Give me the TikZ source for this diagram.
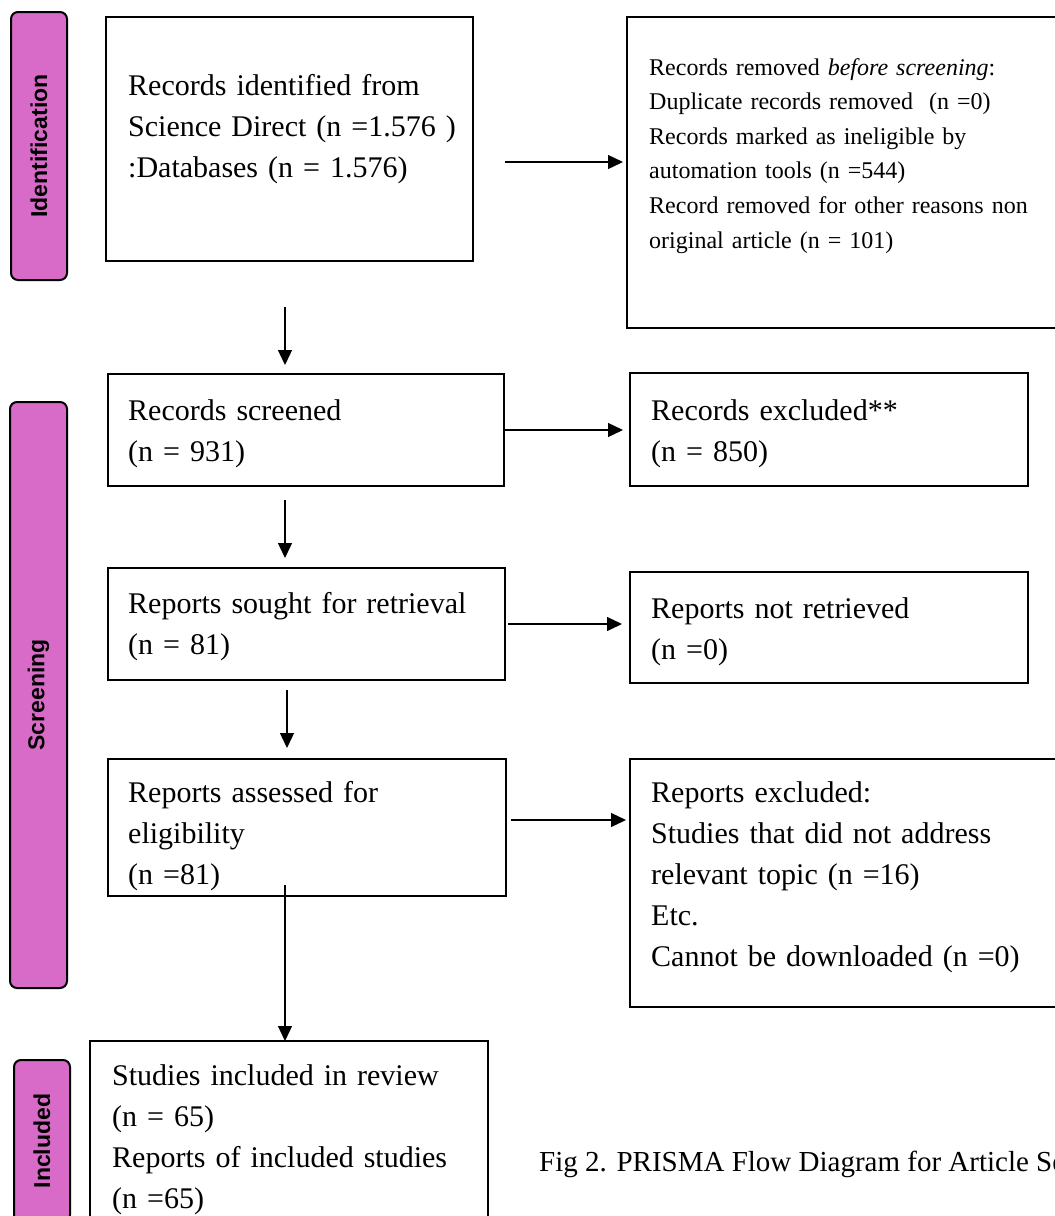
\documentclass[tikz,border=0pt]{standalone}
\usepackage{fontspec}
\setmainfont{Liberation Serif}
\newfontfamily\tabfont{Liberation Sans}
\usetikzlibrary{arrows.meta}
\definecolor{tabpink}{RGB}{217,107,200}
\begin{document}
\begin{tikzpicture}[x=1pt,y=-1pt,
  box/.style={draw=black,line width=2.5pt,rectangle,anchor=north west,inner sep=0pt,outer sep=0pt},
  phase/.style={draw=black,line width=2pt,fill=tabpink,rounded corners=7pt,rectangle,anchor=north west,inner sep=0pt,outer sep=0pt},
  phaselabel/.style={font=\tabfont\bfseries\fontsize{23}{26}\selectfont,rotate=90,inner sep=0pt},
  bigtxt/.style={anchor=base west,inner sep=0pt,text width=600pt,align=left,font=\fontsize{30}{41}\selectfont},
  smalltxt/.style={anchor=base west,inner sep=0pt,text width=600pt,align=left,font=\fontsize{24}{34.6}\selectfont},
  arr/.style={line width=1.3pt,-{Triangle[length=15pt,width=14pt]}}]
\useasboundingbox (0,0) rectangle (1055,1216);
\clip (0,0) rectangle (1055,1216);

% phase tabs
\node[phase,minimum width=56pt,minimum height=268pt] (pid) at (11,12) {};
\node[phaselabel] (lid) at (pid.center) {Identification};
\node[phase,minimum width=57pt,minimum height=586pt] (psc) at (10,402) {};
\node[phaselabel] (lsc) at (psc.center) {Screening};
\node[phase,minimum width=56pt,minimum height=162pt] (pin) at (14,1060) {};
\node[phaselabel] (lin) at (pin.center) {Included};

% boxes
\node[box,minimum width=367pt,minimum height=244pt] (b1) at (106,17) {};
\node[box,minimum width=443pt,minimum height=311pt] (b2) at (627,17) {};
\node[box,minimum width=396pt,minimum height=112pt] (scr) at (108,374) {};
\node[box,minimum width=398pt,minimum height=113pt] (ex1) at (630,373) {};
\node[box,minimum width=397pt,minimum height=112pt] (sou) at (108,568) {};
\node[box,minimum width=398pt,minimum height=111pt] (nr) at (630,572) {};
\node[box,minimum width=398pt,minimum height=137pt] (as) at (108,759) {};
\node[box,minimum width=440pt,minimum height=248pt] (ex2) at (630,759) {};
\node[box,minimum width=398pt,minimum height=189pt] (inc) at (90,1041) {};

% texts
\node[bigtxt] (t1) at (128,95) {Records identified from\\Science Direct (n =1.576 )\\:Databases (n = 1.576)};
\node[smalltxt] (t2) at (649,75) {Records removed \textit{before screening}:\\Duplicate records removed\ \ (n =0)\\Records marked as ineligible by\\automation tools (n =544)\\Record removed for other reasons non\\original article (n = 101)};
\node[bigtxt] (t3) at (128,420) {Records screened\\(n = 931)};
\node[bigtxt] (t4) at (651,420) {Records excluded**\\(n = 850)};
\node[bigtxt] (t5) at (128,613) {Reports sought for retrieval\\(n = 81)};
\node[bigtxt] (t6) at (651,618) {Reports not retrieved\\(n =0)};
\node[bigtxt] (t7) at (128,802) {Reports assessed for\\eligibility\\(n =81)};
\node[bigtxt] (t8) at (651,802) {Reports excluded:\\Studies that did not address\\relevant topic (n =16)\\Etc.\\Cannot be downloaded (n =0)};
\node[bigtxt] (t9) at (112,1085) {Studies included in review\\(n = 65)\\Reports of included studies\\(n =65)};
\node[anchor=base west,inner sep=0pt,font=\fontsize{29}{34}\selectfont] (cap) at (539,1171) {Fig 2. PRISMA Flow Diagram for Article Selection};

% connectors
\coordinate (a1s) at (505,162);
\draw[arr,shorten >=4pt] (a1s) -- (a1s -| b2.west);
\coordinate (a2s) at (285,307);
\draw[arr,shorten >=9pt] (a2s) -- (a2s |- scr.north);
\draw[arr,shorten <=1pt,shorten >=7pt] (scr.east) -- (scr.east -| ex1.west);
\draw[arr,shorten <=14pt,shorten >=10pt] (scr.south -| a2s) -- (sou.north -| a2s);
\draw[arr,shorten <=3pt,shorten >=8pt] (sou.east) -- (sou.east -| nr.west);
\coordinate (a6x) at (287,0);
\draw[arr,shorten <=10pt,shorten >=11pt] (sou.south -| a6x) -- (as.north -| a6x);
\draw[arr,shorten <=5pt,shorten >=4pt] ([yshift=7.5pt]as.east) -- ([yshift=7.5pt]as.east -| ex2.west);
\coordinate (a8s) at (285,885);
\draw[arr] (a8s) -- (a8s |- inc.north);
\end{tikzpicture}
\end{document}
